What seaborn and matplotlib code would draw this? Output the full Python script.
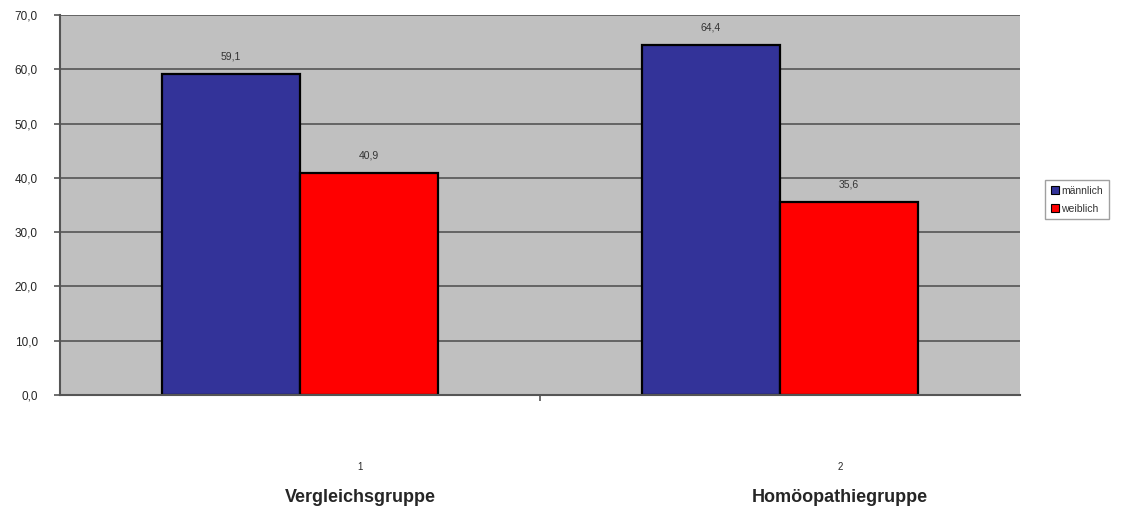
import pandas as pd
import seaborn as sns
import matplotlib.pyplot as plt
from matplotlib.ticker import FuncFormatter, FixedLocator
from matplotlib.patches import Patch

groups = ["Vergleichsgruppe", "Homöopathiegruppe"]
group_numbers = ["1", "2"]
sexes = ["männlich", "weiblich"]
maennlich = [59.1, 64.4]
weiblich = [40.9, 35.6]

df = pd.DataFrame({
    "gruppe": groups * 2,
    "geschlecht": [sexes[0]] * 2 + [sexes[1]] * 2,
    "prozent": maennlich + weiblich,
})

sns.set_style("white")
plt.rcParams["font.family"] = ["Liberation Sans", "DejaVu Sans"]

colors = {"männlich": "#333399", "weiblich": "#FF0000"}

fig = plt.figure(figsize=(11.22, 5.12), dpi=100)
ax = fig.add_axes([0.0535, 0.2285, 0.8555, 0.7422])
ax.set_facecolor("#C0C0C0")

sns.barplot(data=df, x="gruppe", y="prozent", hue="geschlecht", order=groups,
            hue_order=sexes, palette=colors, width=0.575, edgecolor="black",
            linewidth=1.6, saturation=1, legend=False, ax=ax)

for cont in ax.containers:
    ax.bar_label(cont, labels=[f"{v:.1f}".replace(".", ",") for v in cont.datavalues],
                 padding=9, fontsize=7.5, color="#333333")

ax.set_xlim(-0.5, 1.5)
ax.set_ylim(0, 70)
ax.set_yticks(range(0, 71, 10))
ax.yaxis.set_major_formatter(FuncFormatter(lambda v, p: f"{v:.1f}".replace(".", ",")))
ax.tick_params(axis="y", left=True, labelsize=8.5, length=4, width=1.2,
               color="#555555", direction="out", pad=12)
ax.grid(axis="y", color="#555555", linewidth=1.2)
ax.set_axisbelow(True)

ax.set_xticks([0, 1])
ax.set_xticklabels([])
ax.tick_params(axis="x", which="major", bottom=False, length=0)
ax.xaxis.set_minor_locator(FixedLocator([0.5]))
ax.tick_params(axis="x", which="minor", bottom=True, length=4, width=1.2,
               color="#555555", direction="out")
ax.set_xlabel("")
ax.set_ylabel("")

for s in ["top", "right"]:
    ax.spines[s].set_visible(False)
for s in ["left", "bottom"]:
    ax.spines[s].set_color("#555555")
    ax.spines[s].set_linewidth(1.5)

trans = ax.get_xaxis_transform()
for i, (num, name) in enumerate(zip(group_numbers, groups)):
    ax.text(i + 0.125, -0.19, num, transform=trans, ha="center", va="center", fontsize=7)
    ax.text(i + 0.125, -0.27, name, transform=trans, ha="center", va="center",
            fontsize=13, fontweight="bold")

handles = [Patch(facecolor=colors[s], edgecolor="black", linewidth=0.8) for s in sexes]
fig.legend(handles, sexes, loc="center left", bbox_to_anchor=(0.927, 0.61),
           fontsize=7.5, frameon=True, fancybox=False, edgecolor="#888888",
           handlelength=0.75, handleheight=0.75, handletextpad=0.25,
           borderpad=0.55, labelspacing=0.75, labelcolor="#333333")

fig.savefig("out.png", dpi=100)
